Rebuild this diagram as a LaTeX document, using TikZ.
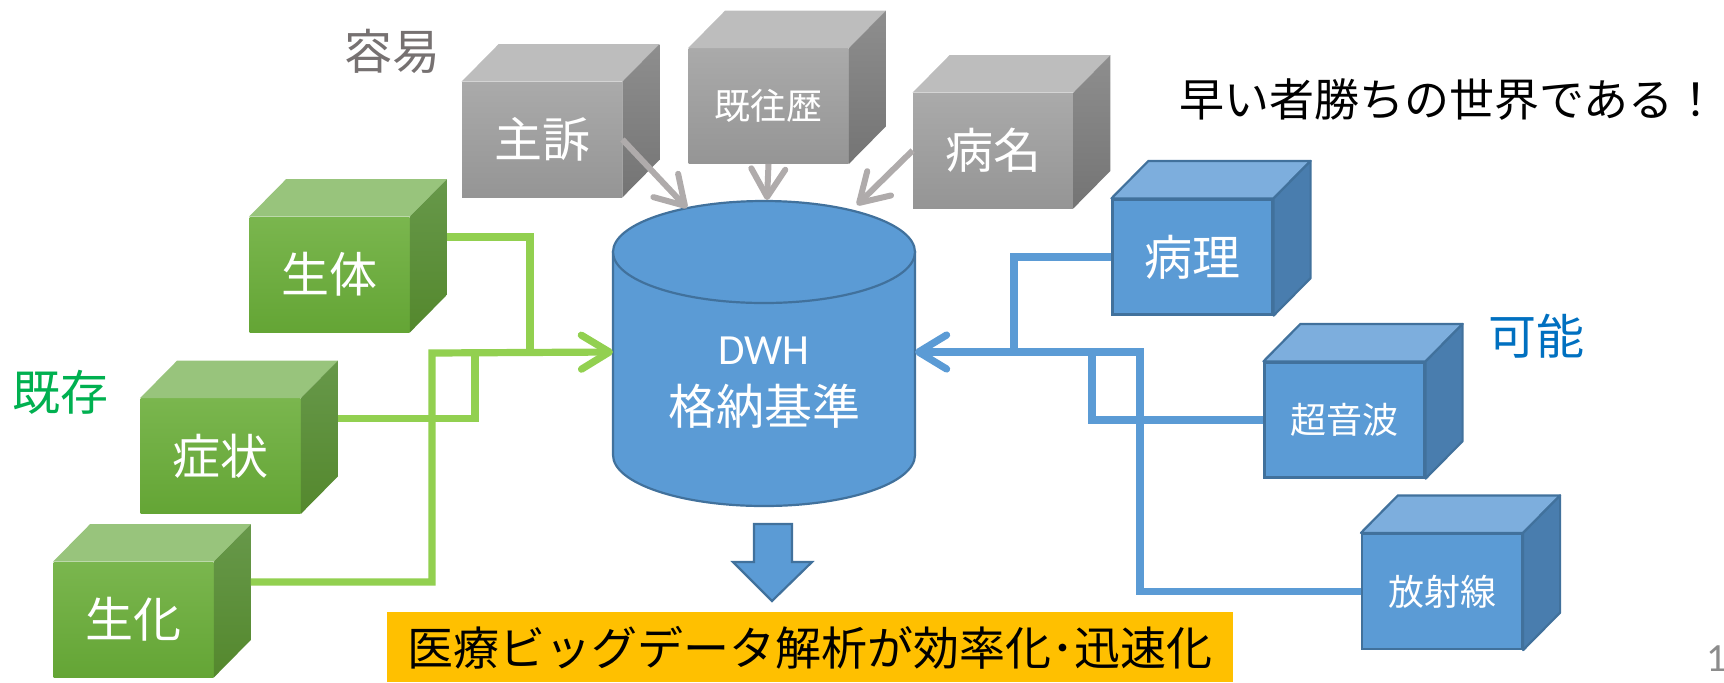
\documentclass[tikz,border=0pt]{standalone}
\usepackage{fontspec}
\newfontfamily\jpfont{Noto Sans CJK JP}
\newfontfamily\calib{Carlito}
\usetikzlibrary{arrows.meta}
\definecolor{gtop}{HTML}{98C47C}
\definecolor{gfrontA}{HTML}{7AB64E}
\definecolor{gfrontB}{HTML}{64A535}
\definecolor{gsideA}{HTML}{67984A}
\definecolor{gsideB}{HTML}{54882D}
\definecolor{ktop}{HTML}{BDBDBD}
\definecolor{kfrontA}{HTML}{AAAAAA}
\definecolor{kfrontB}{HTML}{959595}
\definecolor{ksideA}{HTML}{8E8E8E}
\definecolor{ksideB}{HTML}{747474}
\definecolor{btop}{HTML}{7DAEDD}
\definecolor{bfront}{HTML}{5B9BD5}
\definecolor{bside}{HTML}{497DAE}
\definecolor{bedge}{HTML}{41719C}
\definecolor{glinec}{HTML}{92D050}
\definecolor{arrgray}{HTML}{AFABAB}
\definecolor{easygray}{RGB}{118,113,113}
\definecolor{existgreen}{HTML}{00B050}
\definecolor{possblue}{HTML}{0070C0}
\definecolor{resorange}{HTML}{FFC000}
\definecolor{pagegray}{HTML}{8C8C8C}
\tikzset{
  cubefront/.style={minimum width=80pt, minimum height=57.5pt, inner sep=0pt, text=white},
  bigfont/.style={font=\jpfont\fontsize{24pt}{28pt}\selectfont},
  smallfont/.style={font=\jpfont\fontsize{18pt}{22pt}\selectfont},
  greenfront/.style={top color=gfrontA, bottom color=gfrontB},
  greentop/.style={fill=gtop},
  greenside/.style={top color=gsideA, bottom color=gsideB},
  grayfront/.style={top color=kfrontA, bottom color=kfrontB},
  graytop/.style={fill=ktop},
  grayside/.style={top color=ksideA, bottom color=ksideB},
  bluefront/.style={fill=bfront, draw=bedge, line width=1.1pt},
  bluetop/.style={fill=btop, draw=bedge, line width=1.1pt, line join=round},
  blueside/.style={fill=bside, draw=bedge, line width=1.1pt, line join=round},
  barb/.style={-{Straight Barb[length=14pt,width=17pt,round]}},
  gline/.style={draw=glinec, line width=3.6pt},
  bline/.style={draw=bfront, line width=3.6pt},
  kline/.style={draw=arrgray, line width=3pt, barb},
}
\newcommand\mkcube[5]{%
  \node[cubefront, #3front, #4] (#1) at (#2) {#5};
  \path[#3top] (#1.north west) -- ++(37,-37.5) -- ([shift={(37,-37.5)}]#1.north east) -- (#1.north east) -- cycle;
  \path[#3side] (#1.north east) -- ++(37,-37.5) -- ([shift={(37,-37.5)}]#1.south east) -- (#1.south east) -- cycle;
}
\begin{document}
\begin{tikzpicture}[x=0.5pt,y=-0.5pt]
\useasboundingbox (0,0) rectangle (1724,682);

% cylinder
\path[fill=bfront, draw=bedge, line width=1.1pt]
  (613,252) -- (613,455) .. controls (613,483.2) and (680.6,506) .. (764,506)
  .. controls (847.4,506) and (915,483.2) .. (915,455) -- (915,252) -- cycle;
\path[fill=bfront, draw=bedge, line width=1.1pt] (764,252) ellipse [x radius=151, y radius=51];
\node[text=white, font=\calib\fontsize{21.5pt}{24pt}\selectfont] (dwh) at (764,351) {DWH};
\node[text=white, bigfont] (dwhtxt) at (764,406) {格納基準};
\coordinate (dwhL) at (613,352);
\coordinate (dwhR) at (915,352);
\coordinate (topA) at (687,208);
\coordinate (topB) at (767,200);
\coordinate (topC) at (857,205);

% cubes
\mkcube{shuso}{542,139.5}{gray}{bigfont}{主訴}
\mkcube{kiou}{768.5,106}{gray}{smallfont}{既往歴}
\mkcube{byomei}{993,150.5}{gray}{bigfont}{病名}
\mkcube{seitai}{329.5,274.5}{green}{bigfont}{生体}
\mkcube{shojo}{220.5,456}{green}{bigfont}{症状}
\mkcube{seika}{133.5,619.5}{green}{bigfont}{生化}
\mkcube{byori}{1192.5,257}{blue}{bigfont}{病理}
\mkcube{onpa}{1344.5,420}{blue}{smallfont}{超音波}
\mkcube{hosha}{1442,591.5}{blue}{smallfont}{放射線}

% gray arrows
\draw[kline] (shuso.east) -- (topA);
\draw[kline] (kiou.south) -- (topB);
\draw[kline] (byomei.west) -- (topC);

% green connectors
\coordinate (gj1) at (530,353);
\coordinate (gj2) at (475,353);
\coordinate (gj3) at (432,353);
\draw[gline] ([shift={(37,-37.5)}]seitai.east) -| (gj1);
\draw[gline] ([shift={(37,-37.5)}]shojo.east) -| (gj2);
\draw[gline, barb] ([shift={(37,-37.5)}]seika.east) -| (gj3) -- (dwhL);

% blue connectors
\coordinate (bj1) at (1014,352);
\coordinate (bj2) at (1092,352);
\coordinate (bj3) at (1140,352);
\draw[bline] (byori.west) -| (bj1);
\draw[bline] (onpa.west) -| (bj2);
\draw[bline, barb] (hosha.west) -| (bj3) -- (dwhR);

% down arrow
\path[fill=bfront, draw=bedge, line width=1.1pt]
  (754,524) -- (792,524) -- (792,562) -- (812,562) -- (772,601) -- (733,562) -- (754,562) -- cycle;

% result box
\node[fill=resorange, minimum width=423pt, minimum height=35pt, inner sep=0pt, anchor=north west,
  font=\jpfont\fontsize{23pt}{27pt}\selectfont] (result) at (387,612) {医療ビッグデータ解析が効率化･迅速化};

% labels
\node[text=easygray, bigfont] (easy) at (392,51) {容易};
\node[text=existgreen, bigfont] (exist) at (60,392) {既存};
\node[text=possblue, bigfont] (poss) at (1536,336) {可能};
\node[text=black, font=\jpfont\fontsize{22.5pt}{26pt}\selectfont] (title) at (1449,100) {早い者勝ちの世界である！};
\node[text=pagegray, anchor=west, inner sep=0pt, font=\calib\fontsize{20pt}{24pt}\selectfont] (page) at (1706,659) {1};
\end{tikzpicture}
\end{document}
